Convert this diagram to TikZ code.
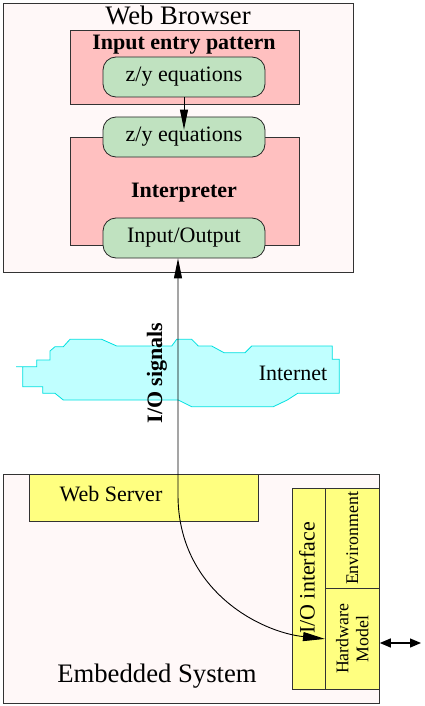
\documentclass[tikz,border=0pt]{standalone}
\usepackage{fontspec}
\setmainfont{Liberation Serif}
\usetikzlibrary{arrows.meta}

\definecolor{shell}{RGB}{255,248,248}
\definecolor{rose}{RGB}{255,192,192}
\definecolor{mint}{RGB}{192,226,192}
\definecolor{sky}{RGB}{192,255,255}
\definecolor{skyline}{RGB}{0,224,224}
\definecolor{lemon}{RGB}{255,255,128}

\newcommand{\fsbig}{\fontsize{26.7}{30}\selectfont}
\newcommand{\fsmid}{\fontsize{22}{25}\selectfont}
\newcommand{\fssmall}{\fontsize{17.8}{20}\selectfont}

\tikzset{
  frame/.style={draw=black!80, fill=shell, line width=1pt, anchor=north west, inner sep=0pt},
  block/.style={draw=black!80, fill=rose, line width=0.8pt, anchor=north west, inner sep=0pt},
  unit/.style={draw=black!80, fill=lemon, line width=0.8pt, anchor=north west, inner sep=0pt},
  pill/.style={draw=black!85, fill=mint, line width=0.8pt, rounded corners=13pt,
    minimum width=162pt, minimum height=40pt, inner sep=0pt, font=\fsmid},
  tip/.style={-{Triangle[length=20pt,width=8pt]}, line width=0.9pt}
}

\begin{document}
\begin{tikzpicture}[x=1pt,y=-1pt]
\useasboundingbox (0,0) rectangle (425,706);

% browser side
\node[frame, minimum width=350pt, minimum height=269pt] (browser) at (3,3) {};
\node[font=\fsbig] at (178,15) {Web Browser};

\node[block, minimum width=229pt, minimum height=74pt] (entry) at (70,30) {};
\node[font=\fsmid\bfseries] at (184,45) {Input entry pattern};
\node[block, minimum width=229pt, minimum height=108pt] (interp) at (70,137) {};
\node[font=\fsmid\bfseries] at (184,193) {Interpreter};

\node[pill] (eq1) at (184,77) {z/y equations};
\node[pill] (eq2) at (184,137) {z/y equations};
\node[pill] (io) at (184,238) {Input/Output};

\draw[tip] (eq1.south) -- ([yshift=-13pt]eq2.north);

% internet
\filldraw[fill=sky, draw=skyline, line width=0.8pt]
  (16,366.7) -- (36.7,366.7) -- (36.7,360) -- (50,360) -- (50,351) -- (55,346.7)
  -- (63.3,346.7) -- (70,339.3) -- (101.7,339.3) -- (116.7,346) -- (171.7,346)
  -- (176.7,339.3) -- (191.7,339.3) -- (198.3,346) -- (211.7,346) -- (224,352.7)
  -- (245,352.7) -- (251.7,346) -- (332.3,346) -- (332.3,359.3) -- (339.3,359.3)
  -- (339.3,393.3) -- (297.7,393.3) -- (287.3,400) -- (273.3,406.7) -- (191.7,406.7)
  -- (178.3,400) -- (63.3,400) -- (55,393.3) -- (42.7,393.3) -- (42.7,386.7)
  -- (22.7,386.7) -- (22.7,366.7) -- cycle;
\node[font=\fsmid] (net) at (293,373) {Internet};
\node[font=\fsmid\bfseries, rotate=90] (signals) at (157,373) {I/O signals};

% embedded side
\node[frame, minimum width=376pt, minimum height=229pt] (embedded) at (3,474) {};
\node[font=\fsbig] at (157,676) {Embedded System};

\node[unit, minimum width=229pt, minimum height=47pt] (server) at (29,474) {};
\node[font=\fsmid] at (111,494) {Web Server};

\node[unit, minimum width=33pt, minimum height=201pt] (ioif) at (292,488) {};
\node[font=\fsmid, rotate=90] at (307,578) {I/O interface};
\node[unit, minimum width=54pt, minimum height=100pt] (env) at (325,488) {};
\node[font=\fssmall, rotate=90] at (env) {Environment};
\node[unit, minimum width=54pt, minimum height=101pt] (hw) at (325,588) {};
\node[font=\fssmall, rotate=90, align=center] at (hw) {Hardware\\Model};

% signal path
\coordinate (bend) at (178,495);
\coordinate (outside) at (421,643);
\draw[{Triangle[length=20pt,width=8pt]}-{Triangle[length=22pt,width=9pt]}, line width=0.9pt]
  (io.south -| bend) -- (bend) .. controls (178,590) and (260,632) .. (hw.west);
\draw[{Triangle[length=11pt,width=9pt]}-{Triangle[length=11pt,width=9pt]}, line width=1.3pt]
  (hw.east |- outside) -- (outside);
\end{tikzpicture}
\end{document}
